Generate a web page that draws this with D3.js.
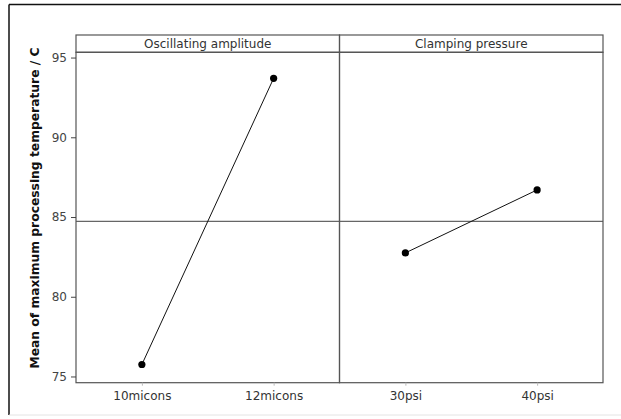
<!DOCTYPE html>
<html>
<head>
<meta charset="utf-8">
<script src="https://cdn.jsdelivr.net/npm/d3@7"></script>
<style>
  html, body { margin: 0; padding: 0; background: #fff; }
  svg { display: block; }
</style>
</head>
<body>
<div id="chart"></div>
<script>
// Main effects plot: mean of maximum processing temperature per factor level
const factors = ["Oscillating amplitude", "Clamping pressure"];
const levels = [["10micons", "12micons"], ["30psi", "40psi"]];
const means = [[75.75, 93.7], [82.75, 86.7]];
const yTicks = [75, 80, 85, 90, 95];
const yTitle = "Mean of maximum processing temperature / C";

const W = 621, H = 419;
const left = 76, right = 603, stripTop = 35, plotTop = 52.3, plotBottom = 382.7;

const svg = d3.select("#chart").append("svg")
  .attr("width", W).attr("height", H);

// outer frame
svg.append("line").attr("x1", 9).attr("x2", W).attr("y1", 4.5).attr("y2", 4.5)
  .attr("stroke", "#111").attr("stroke-width", 1.5);
svg.append("line").attr("x1", 9).attr("x2", 9).attr("y1", 4.5).attr("y2", 415)
  .attr("stroke", "#111").attr("stroke-width", 1.5);
svg.append("line").attr("x1", 9).attr("x2", W).attr("y1", 415).attr("y2", 415)
  .attr("stroke", "#e4e4e4").attr("stroke-width", 1);

const y = d3.scaleLinear().domain([74.61, 95.33]).range([plotBottom, plotTop]);

const panel = d3.scaleBand().domain(factors).range([left, right]);

const allVals = means.flat();
const grandMean = d3.mean(allVals);

const font = "'DejaVu Sans', Tahoma, sans-serif";

// panels
factors.forEach((f, i) => {
  const x0 = panel(f), pw = panel.bandwidth();
  const g = svg.append("g");
  const x = d3.scalePoint().domain(levels[i]).range([x0, x0 + pw]).padding(0.5);

  // grand mean reference line
  g.append("line")
    .attr("x1", x0).attr("x2", x0 + pw)
    .attr("y1", y(grandMean)).attr("y2", y(grandMean))
    .attr("stroke", "#666").attr("stroke-width", 1.2);

  // strip
  g.append("rect").attr("x", x0).attr("y", stripTop).attr("width", pw)
    .attr("height", plotTop - stripTop).attr("fill", "none")
    .attr("stroke", "#555").attr("stroke-width", 1.2);
  g.append("text").attr("x", x0 + pw / 2).attr("y", (stripTop + plotTop) / 2 + 4)
    .attr("text-anchor", "middle").attr("font-family", font).attr("font-size", 12)
    .attr("fill", "#333").text(f);

  // panel border
  g.append("rect").attr("x", x0).attr("y", plotTop).attr("width", pw)
    .attr("height", plotBottom - plotTop).attr("fill", "none")
    .attr("stroke", "#555").attr("stroke-width", 1.2);

  // x axis
  const xa = svg.append("g").attr("transform", `translate(0,${plotBottom})`)
    .call(d3.axisBottom(x).tickSize(3).tickPadding(6));
  xa.select(".domain").remove();
  xa.selectAll("line").attr("stroke", "#bbb");
  xa.selectAll("text").attr("font-family", font).attr("font-size", 12).attr("fill", "#333");

  // main effect line and points
  const pts = levels[i].map((l, j) => [x(l), y(means[i][j])]);
  g.append("path").attr("d", d3.line()(pts))
    .attr("fill", "none").attr("stroke", "#111").attr("stroke-width", 1);
  g.selectAll("circle").data(pts).enter().append("circle")
    .attr("cx", d => d[0]).attr("cy", d => d[1]).attr("r", 3.6).attr("fill", "#000");
});

// y axis
const ya = svg.append("g").attr("transform", `translate(${left},0)`)
  .call(d3.axisLeft(y).tickValues(yTicks).tickSize(5).tickPadding(4));
ya.select(".domain").remove();
ya.selectAll("line").attr("stroke", "#444");
ya.selectAll("text").attr("font-family", font).attr("font-size", 12).attr("fill", "#444");

// y axis title
svg.append("text")
  .attr("transform", `translate(39,208) rotate(-90)`)
  .attr("text-anchor", "middle").attr("font-family", font).attr("font-weight", "bold")
  .attr("font-size", 12.3).attr("fill", "#111").text(yTitle);
</script>
</body>
</html>
